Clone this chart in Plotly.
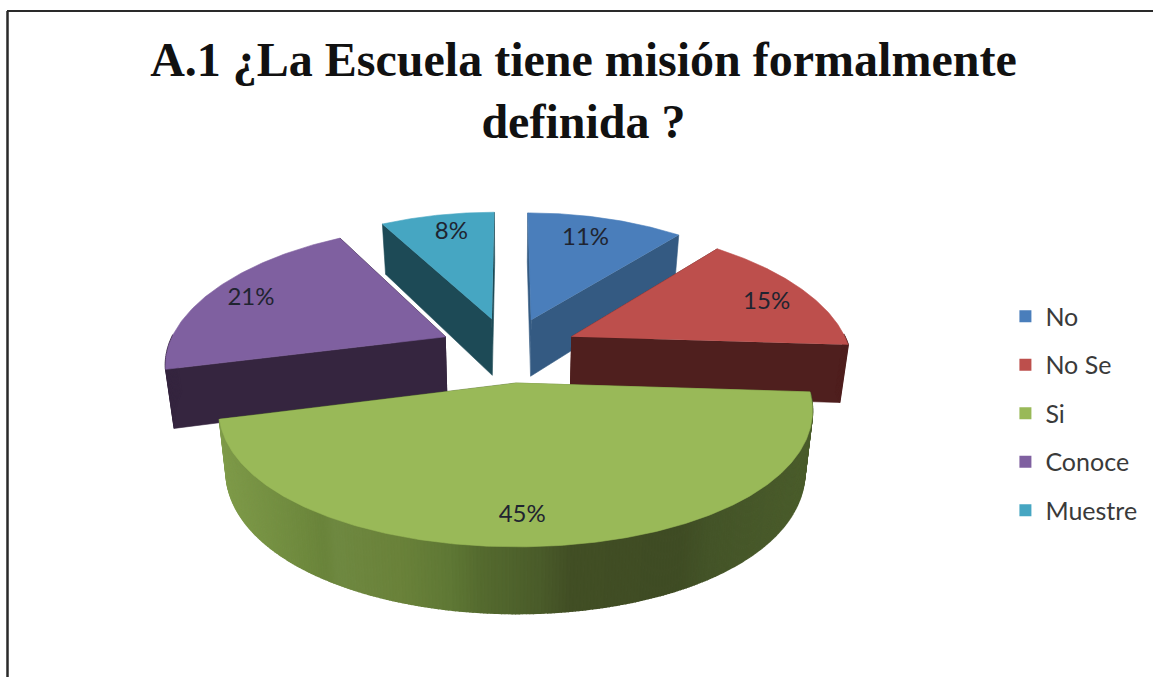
import numpy as np
import plotly.graph_objects as go

# ---- data ----
categories = ["No", "No Se", "Si", "Conoce", "Muestre"]
values = [11, 15, 45, 21, 8]
title_text = "<b>A.1 ¿La Escuela tiene misión formalmente<br>definida ?</b>"

# ---- styling ----
top_colors = ["#4a7ebb", "#bd4f4c", "#99b958", "#7f60a0", "#46a6c2"]
wall_colors = ["#345a82", "#4f1f1e", "#5f7835", "#35253f", "#1d4a56"]
label_radius = [0.768, 0.809, 0.835, 0.824, 0.803]
label_turn = [-1.6, 3.4, 4.3, -1.3, 1.4]
green_stops = [(220, "#7f9b4a"), (300, "#6f8a3e"), (322, "#6a843b"), (335, "#6f8941"),
               (400, "#6a823a"), (450, "#5f7835"), (480, "#556b2f"), (540, "#4a5c2a"),
               (570, "#424f25"), (680, "#3f4c24"), (710, "#445428"), (810, "#4b5d2c")]
draw_order = [4, 0, 3, 1, 2]
CX, CY, R, R2, KX, KY, PULL = 508.5, 349.5, 278.5, 130.0, 0.18, 0.142, 0.25


def project(U, V):
    return CX + R * U / (1.0 + KX * V), CY - R2 * V / (1.0 + KY * V)


def drop(x, y, V):
    return CX + (x - CX) * 0.975, y + 58.0 - 7.0 * V


def hex_rgb(c):
    return np.array([int(c[i:i + 2], 16) for i in (1, 3, 5)], float)


def green_at(x):
    xs = [s[0] for s in green_stops]
    cols = np.array([hex_rgb(s[1]) for s in green_stops])
    rgb = [np.interp(x, xs, cols[:, i]) for i in range(3)]
    return "rgb(%d,%d,%d)" % tuple(rgb)


def poly(fig, xs, ys, color, width=0.6):
    fig.add_trace(go.Scatter(x=list(xs), y=list(ys), mode="lines", fill="toself", fillcolor=color,
                             line=dict(color=color, width=width), hoverinfo="skip", showlegend=False))


total = float(sum(values))
edges = np.concatenate([[0], np.cumsum(values)]) / total * 2 * np.pi

fig = go.Figure()
for i in draw_order:
    a0, a1 = edges[i], edges[i + 1]
    mid = (a0 + a1) / 2
    ou, ov = PULL * np.sin(mid), PULL * np.cos(mid)
    th = np.linspace(a0, a1, 280 if categories[i] == "Si" else 90)
    U, V = ou + np.sin(th), ov + np.cos(th)
    ax, ay = project(ou, ov)
    x, y = project(U, V)
    bx, by = drop(x, y, V)
    abx, aby = drop(ax, ay, ov)
    # radial walls
    poly(fig, [ax, x[0], bx[0], abx], [ay, y[0], by[0], aby], wall_colors[i])
    poly(fig, [ax, x[-1], bx[-1], abx], [ay, y[-1], by[-1], aby], wall_colors[i])
    # outer wall (only the part turned towards the viewer)
    for j in range(len(th) - 1):
        if np.cos((th[j] + th[j + 1]) / 2) < 0.02:
            col = green_at((x[j] + x[j + 1]) / 2) if categories[i] == "Si" else wall_colors[i]
            poly(fig, [x[j], x[j + 1], bx[j + 1], bx[j]], [y[j], y[j + 1], by[j + 1], by[j]], col, 1.6)
    # top face
    poly(fig, np.r_[ax, x], np.r_[ay, y], top_colors[i])

# percentage labels
lab_x, lab_y, lab_t = [], [], []
for i, v in enumerate(values):
    mid = (edges[i] + edges[i + 1]) / 2
    ang = mid + np.radians(label_turn[i])
    lx, ly = project(PULL * np.sin(mid) + label_radius[i] * np.sin(ang),
                     PULL * np.cos(mid) + label_radius[i] * np.cos(ang))
    lab_x.append(lx); lab_y.append(ly); lab_t.append(f"{v}%")
fig.add_trace(go.Scatter(x=lab_x, y=lab_y, text=lab_t, mode="text", textposition="middle center",
                         textfont=dict(family="Lato", size=24, color="#1f2430"),
                         hoverinfo="skip", showlegend=False))

# legend entries
for c, col in zip(categories, top_colors):
    fig.add_trace(go.Scatter(x=[None], y=[None], mode="markers", name=c, legendgroup=c,
                             marker=dict(symbol="square", size=15, color=col)))

fig.update_layout(
    width=1153, height=677, autosize=False,
    margin=dict(l=0, r=0, t=0, b=0),
    paper_bgcolor="white", plot_bgcolor="white",
    title=dict(text=title_text, x=0.506, xanchor="center", xref="paper", y=0.888, yanchor="top",
               yref="container", font=dict(family="Liberation Serif", size=48, color="#111111"),
               automargin=False),
    xaxis=dict(range=[0, 1153], visible=False, fixedrange=True),
    yaxis=dict(range=[677, 0], visible=False, fixedrange=True),
    legend=dict(x=0.872, xanchor="left", y=0.5665, yanchor="top", tracegroupgap=13,
                bgcolor="rgba(0,0,0,0)", font=dict(family="Lato", size=25, color="#3a3a3a"),
                itemsizing="constant"),
    shapes=[
        dict(type="line", xref="x", yref="y", x0=7.5, x1=7.5, y0=11, y1=677, line=dict(color="#2a2a2a", width=2.5)),
        dict(type="line", xref="x", yref="y", x0=7, x1=1153, y0=11, y1=11, line=dict(color="#2a2a2a", width=2)),
    ],
)
fig.write_html("out.html", config={"displayModeBar": False}, post_script="document.body.style.margin='0';")
